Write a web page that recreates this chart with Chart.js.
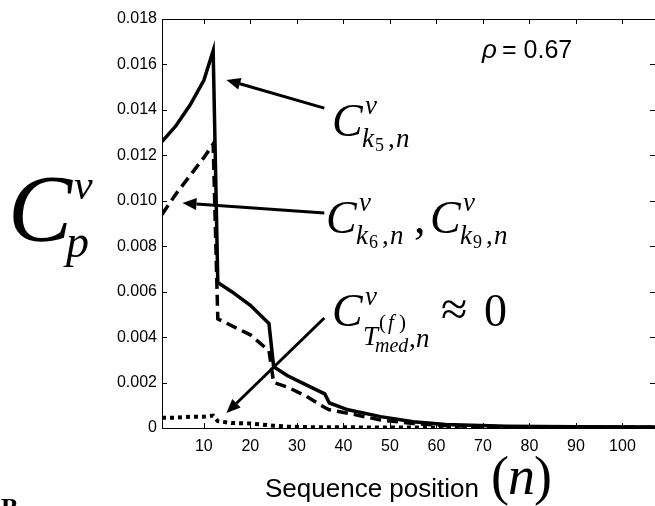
<!DOCTYPE html>
<html>
<head>
<meta charset="utf-8">
<script src="https://cdn.jsdelivr.net/npm/chart.js@4.4.1/dist/chart.umd.min.js"></script>
<style>
  html, body { margin: 0; padding: 0; background: #fff; }
  #wrap { width: 655px; height: 506px; position: relative; }
</style>
</head>
<body>
<div id="wrap"><canvas id="cv" width="655" height="506"></canvas></div>
<script>
// sequence positions (n) at which the curves were read
const positions = [1, 4, 7, 10, 12, 13, 16, 20, 24, 25, 28, 32, 36, 37, 41, 48, 55, 62, 75, 90, 107];

// C^v_{k5,n}
const cK5 = [0.0126, 0.0133, 0.0142, 0.0153, 0.0166, 0.0064, 0.0060, 0.0054, 0.0046, 0.0027, 0.0023,
  0.0019, 0.0015, 0.0011, 0.0008, 0.0005, 0.00028, 0.00015, 0.00008, 0.00005, 0.00004];
// C^v_{k6,n}, C^v_{k9,n}
const cK6K9 = [0.0094, 0.0103, 0.0111, 0.0119, 0.0125, 0.0048, 0.0045, 0.0041, 0.0034, 0.0020, 0.0018,
  0.0014, 0.0009, 0.0008, 0.00065, 0.00035, 0.0002, 0.0001, 0.00005, 0.00003, 0.00003];
// C^v_{Tmed,n}
const cTmed = [0.00045, 0.00045, 0.0005, 0.0005, 0.00055, 0.0003, 0.00022, 0.0002, 0.00012, 0.0001, 0.00006,
  0.00004, 0.00003, 0.00003, 0.00003, 0.00002, 0.00002, 0.00002, 0.00002, 0.00002, 0.00002];

const xTickValues = [10, 20, 30, 40, 50, 60, 70, 80, 90, 100];
const yTickValues = [0, 0.002, 0.004, 0.006, 0.008, 0.010, 0.012, 0.014, 0.016, 0.018];

// arrows: [n, value] tail -> head
const arrows = [
  { from: [35.9, 0.01408], to: [14.85, 0.01532] },
  { from: [35.9, 0.00946], to: [5.4, 0.0099] },
  { from: [35.9, 0.00484], to: [14.85, 0.00066] }
];

const toPoints = vals => vals.map((v, i) => ({ x: positions[i], y: v }));

const SERIF = '"Liberation Serif", "DejaVu Serif", serif';
const SANS = '"Liberation Sans", Arial, sans-serif';

// small helper for the math-like labels
function drawParts(ctx, x0, y0, parts) {
  parts.forEach(p => {
    ctx.font = (p.it ? 'italic ' : '') + p.s + 'px ' + SERIF;
    ctx.fillText(p.t, x0 + p.dx, y0 + p.dy);
  });
}

const frameTicks = {
  id: 'frameTicks',
  afterDatasetsDraw(chart) {
    const { ctx, chartArea: a, scales } = chart;
    const x = scales.x, y = scales.y;
    const len = 5;
    ctx.save();
    ctx.strokeStyle = '#000';
    ctx.lineWidth = 1;
    ctx.strokeRect(a.left + 0.5, a.top + 0.5, a.right - a.left, a.bottom - a.top);
    ctx.beginPath();
    x.ticks.forEach(t => {
      const px = Math.round(x.getPixelForValue(t.value)) + 0.5;
      ctx.moveTo(px, a.bottom); ctx.lineTo(px, a.bottom - len);
      ctx.moveTo(px, a.top); ctx.lineTo(px, a.top + len);
    });
    y.ticks.forEach(t => {
      const py = Math.round(y.getPixelForValue(t.value)) + 0.5;
      ctx.moveTo(a.left, py); ctx.lineTo(a.left + len, py);
      ctx.moveTo(a.right, py); ctx.lineTo(a.right - len, py);
    });
    ctx.stroke();
    ctx.restore();
  },
  afterDraw(chart) {
    const { ctx, scales } = chart;
    const x = scales.x, y = scales.y;
    ctx.save();
    ctx.fillStyle = '#000';
    ctx.strokeStyle = '#000';

    // === arrows ===
    arrows.forEach(ar => {
      const x1 = x.getPixelForValue(ar.from[0]), y1 = y.getPixelForValue(ar.from[1]);
      const x2 = x.getPixelForValue(ar.to[0]), y2 = y.getPixelForValue(ar.to[1]);
      const ang = Math.atan2(y2 - y1, x2 - x1);
      const hl = 14, hw = 6;
      const bx = x2 - hl * Math.cos(ang), by = y2 - hl * Math.sin(ang);
      ctx.lineWidth = 3;
      ctx.beginPath();
      ctx.moveTo(x1, y1); ctx.lineTo(bx, by);
      ctx.stroke();
      ctx.beginPath();
      ctx.moveTo(x2, y2);
      ctx.lineTo(bx + hw * Math.sin(ang), by - hw * Math.cos(ang));
      ctx.lineTo(bx - hw * Math.sin(ang), by + hw * Math.cos(ang));
      ctx.closePath();
      ctx.fill();
    });

    ctx.textAlign = 'left';
    ctx.textBaseline = 'alphabetic';

    // rho
    ctx.font = 'italic 26px ' + SANS;
    ctx.fillText('\u03C1', 482, 58);
    ctx.font = '25px ' + SANS;
    ctx.fillText('= 0.67', 502, 58);

    // C^v_{k5,n}
    drawParts(ctx, 332, 136, [
      { t: 'C', s: 46, it: true, dx: 0, dy: 0 },
      { t: 'v', s: 27, it: true, dx: 33, dy: -22 },
      { t: 'k', s: 27, it: true, dx: 30, dy: 11 },
      { t: '5', s: 18, it: false, dx: 43, dy: 15 },
      { t: ',', s: 27, it: false, dx: 56, dy: 11 },
      { t: 'n', s: 27, it: true, dx: 64, dy: 11 }
    ]);

    // C^v_{k6,n}, C^v_{k9,n}
    drawParts(ctx, 326, 233, [
      { t: 'C', s: 46, it: true, dx: 0, dy: 0 },
      { t: 'v', s: 27, it: true, dx: 33, dy: -22 },
      { t: 'k', s: 27, it: true, dx: 30, dy: 11 },
      { t: '6', s: 18, it: false, dx: 43, dy: 15 },
      { t: ',', s: 27, it: false, dx: 56, dy: 11 },
      { t: 'n', s: 27, it: true, dx: 64, dy: 11 },
      { t: ',', s: 46, it: false, dx: 88, dy: 0 },
      { t: 'C', s: 46, it: true, dx: 104, dy: 0 },
      { t: 'v', s: 27, it: true, dx: 137, dy: -22 },
      { t: 'k', s: 27, it: true, dx: 134, dy: 11 },
      { t: '9', s: 18, it: false, dx: 147, dy: 15 },
      { t: ',', s: 27, it: false, dx: 160, dy: 11 },
      { t: 'n', s: 27, it: true, dx: 168, dy: 11 }
    ]);

    // C^v_{T^(f)_med,n} ≈ 0
    drawParts(ctx, 332, 326, [
      { t: 'C', s: 46, it: true, dx: 0, dy: 0 },
      { t: 'v', s: 27, it: true, dx: 33, dy: -21 },
      { t: 'T', s: 27, it: true, dx: 31, dy: 19 },
      { t: '(', s: 21, it: false, dx: 47, dy: 3 },
      { t: 'f', s: 21, it: true, dx: 56, dy: 3 },
      { t: ')', s: 21, it: false, dx: 67, dy: 3 },
      { t: 'med', s: 20, it: true, dx: 43, dy: 26 },
      { t: ',', s: 27, it: false, dx: 77, dy: 21 },
      { t: 'n', s: 27, it: true, dx: 84, dy: 21 },
      { t: '\u2248', s: 48, it: false, dx: 109, dy: -1 },
      { t: '0', s: 46, it: false, dx: 152, dy: 0 }
    ]);

    // y axis title C^v_p
    drawParts(ctx, 8, 241, [
      { t: 'C', s: 96, it: true, dx: 0, dy: 0 },
      { t: 'v', s: 42, it: true, dx: 66, dy: -42 },
      { t: 'p', s: 46, it: true, dx: 58, dy: 16 }
    ]);

    // x axis title
    ctx.font = '26px ' + SANS;
    ctx.fillText('Sequence position', 265, 497);
    drawParts(ctx, 491, 494, [
      { t: '(', s: 54, it: false, dx: 0, dy: 0 },
      { t: 'n', s: 54, it: true, dx: 17, dy: 0 },
      { t: ')', s: 54, it: false, dx: 43, dy: 0 }
    ]);

    // cropped panel letter
    ctx.font = 'bold 26px ' + SERIF;
    ctx.fillText('B', 1, 516);

    ctx.restore();
  }
};

const ctx = document.getElementById('cv').getContext('2d');
const chart = new Chart(ctx, {
  type: 'line',
  data: {
    datasets: [
      {
        label: 'k5',
        data: toPoints(cK5),
        borderColor: '#000',
        borderWidth: 3.5,
        pointRadius: 0,
        tension: 0
      },
      {
        label: 'k6,k9',
        data: toPoints(cK6K9),
        borderColor: '#000',
        borderWidth: 3.5,
        borderDash: [11, 6],
        pointRadius: 0,
        tension: 0
      },
      {
        label: 'Tmed',
        data: toPoints(cTmed),
        borderColor: '#000',
        borderWidth: 4,
        borderDash: [4, 4],
        pointRadius: 0,
        tension: 0
      }
    ]
  },
  options: {
    responsive: false,
    animation: false,
    layout: { padding: { left: 0, right: 0, top: 19, bottom: 0 } },
    plugins: { legend: { display: false }, tooltip: { enabled: false } },
    scales: {
      x: {
        type: 'linear',
        min: 1,
        max: 107,
        afterBuildTicks: s => { s.ticks = xTickValues.map(v => ({ value: v })); },
        afterFit: s => { s.height = 78; },
        grid: { display: false, drawTicks: false },
        border: { display: false },
        ticks: {
          color: '#000',
          font: { family: SANS, size: 16 },
          padding: 9,
          maxRotation: 0
        }
      },
      y: {
        min: 0,
        max: 0.018,
        afterBuildTicks: s => { s.ticks = yTickValues.map(v => ({ value: v })); },
        afterFit: s => { s.width = 162; },
        grid: { display: false, drawTicks: false },
        border: { display: false },
        ticks: {
          color: '#000',
          font: { family: SANS, size: 16 },
          padding: 5,
          callback: v => (v === 0 ? '0' : v.toFixed(3))
        }
      }
    }
  },
  plugins: [frameTicks]
});
</script>
</body>
</html>
